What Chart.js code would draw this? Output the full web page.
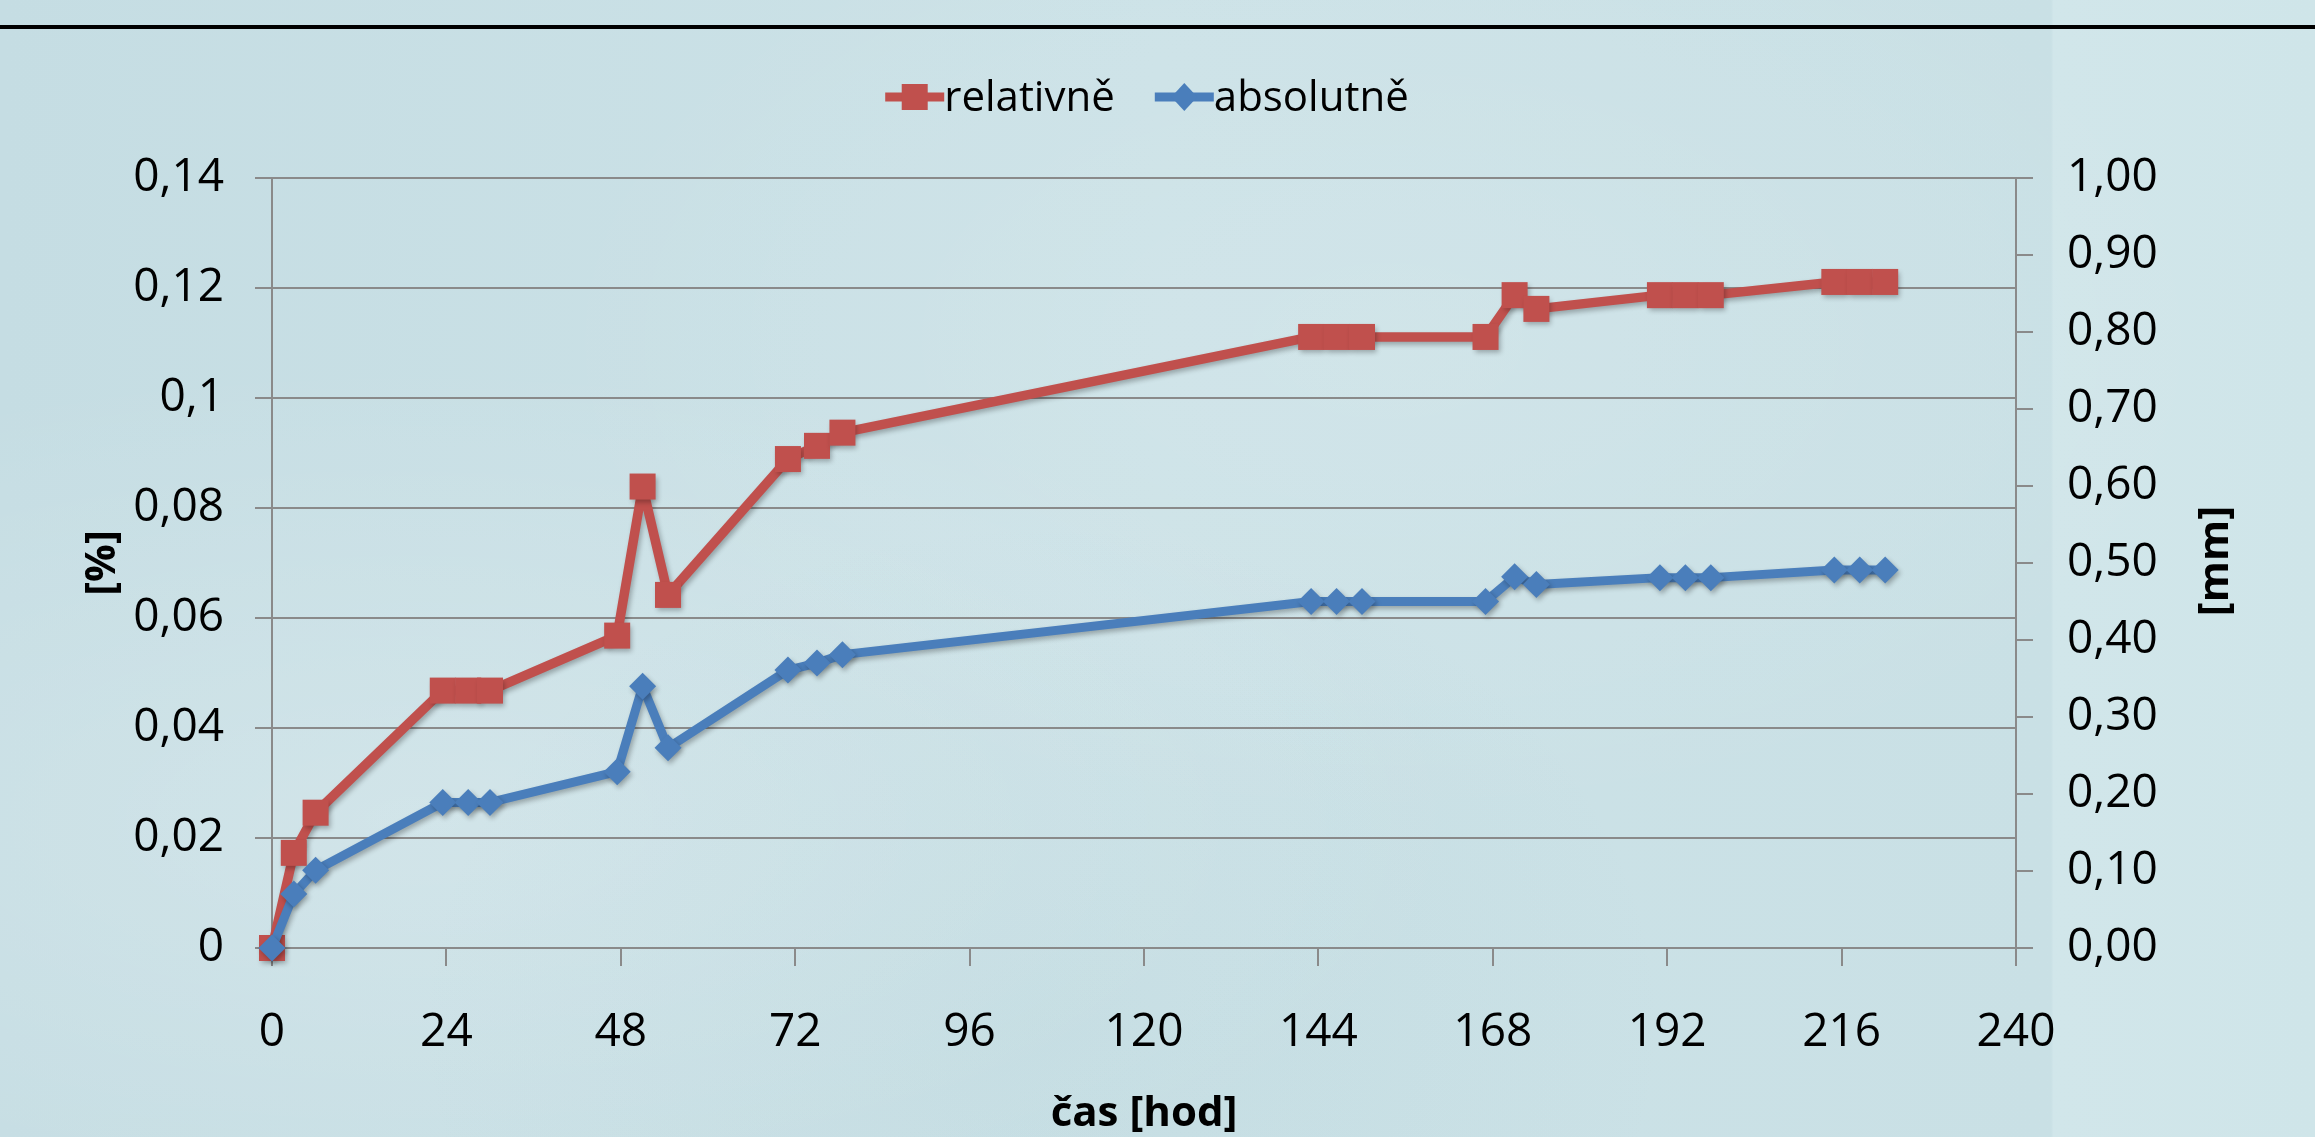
<!DOCTYPE html>
<html lang="cs">
<head>
<meta charset="utf-8">
<title>relativně / absolutně</title>
<script src="https://cdn.jsdelivr.net/npm/chart.js@4/dist/chart.umd.min.js"></script>
<style>
    html, body { margin: 0; padding: 0; }
    body {
        width: 2315px;
        height: 1137px;
        overflow: hidden;
        background-color: #cae1e6;
        background-image:
            radial-gradient(ellipse at 18% 72%, rgba(255, 255, 255, 0.18), transparent 40%),
            radial-gradient(ellipse at 60% 30%, rgba(255, 255, 255, 0.10), transparent 45%),
            radial-gradient(ellipse at 45% 90%, rgba(110, 165, 175, 0.08), transparent 35%),
            linear-gradient(90deg, #c5dde3 0%, #cce2e7 50%, #c9e0e5 88.6%, #d1e6ea 88.7%, #cfe5e9 100%);
    }
</style>
</head>
<body>
<canvas id="chart" width="2315" height="1137"></canvas>
<script>
// --- dados ---
const hours = [0, 3, 6, 23.5, 27, 30, 47.5, 51, 54.5, 71, 75, 78.5,
               143, 146.5, 150, 167, 171, 174, 191, 194.5, 198, 215, 218.5, 222];
const relativne = [0, 0.0173, 0.0246, 0.0468, 0.0468, 0.0468, 0.0568, 0.0839, 0.0642, 0.0889, 0.0913, 0.0937,
                   0.1111, 0.1111, 0.1111, 0.1111, 0.1187, 0.1162, 0.1187, 0.1187, 0.1187, 0.1211, 0.1211, 0.1211];
const absolutne = [0, 0.070, 0.101, 0.189, 0.189, 0.189, 0.229, 0.340, 0.260, 0.361, 0.370, 0.381,
                   0.450, 0.450, 0.450, 0.450, 0.482, 0.472, 0.481, 0.481, 0.481, 0.491, 0.491, 0.491];
const xTicks = [0, 24, 48, 72, 96, 120, 144, 168, 192, 216, 240];
const leftTicks = [0, 0.02, 0.04, 0.06, 0.08, 0.1, 0.12, 0.14];
const rightTicks = [0, 0.1, 0.2, 0.3, 0.4, 0.5, 0.6, 0.7, 0.8, 0.9, 1.0];

const FONT = '"Open Sans", "Liberation Sans", sans-serif';
const gridColor = '#8a8a8a';
const red = '#c0504d';
const blue = '#4a7ebb';

const toPoints = (ys) => hours.map((h, i) => ({ x: h, y: ys[i] }));

// moldura, legenda, título do eixo direito e sombras
const decor = {
    id: 'decor',
    beforeDraw(chart) {
        const ctx = chart.ctx;
        ctx.save();
        ctx.fillStyle = '#000';
        ctx.fillRect(0, 25, chart.width, 4);
        ctx.restore();
    },
    beforeDatasetsDraw(chart) {
        const ctx = chart.ctx;
        ctx.save();
        ctx.shadowColor = 'rgba(0, 0, 0, 0.28)';
        ctx.shadowBlur = 5;
        ctx.shadowOffsetX = 2;
        ctx.shadowOffsetY = 3;
    },
    afterDatasetsDraw(chart) {
        chart.ctx.restore();
    },
    afterDraw(chart) {
        const ctx = chart.ctx;
        const ds = chart.data.datasets;

        // legenda
        ctx.save();
        ctx.font = '42px ' + FONT;
        ctx.textBaseline = 'middle';
        const markerW = 59;
        const gap = 40;
        const widths = ds.map(d => markerW + ctx.measureText(d.label).width);
        const total = widths.reduce((a, b) => a + b, 0) + gap * (ds.length - 1);
        let x = 1147 - total / 2;
        const y = 97;
        ds.forEach((d, i) => {
            ctx.strokeStyle = d.borderColor;
            ctx.lineWidth = 9;
            ctx.beginPath();
            ctx.moveTo(x, y);
            ctx.lineTo(x + markerW, y);
            ctx.stroke();
            ctx.fillStyle = d.borderColor;
            const cx = x + markerW / 2;
            ctx.beginPath();
            if (d.pointStyle === 'rect') {
                ctx.rect(cx - 13, y - 13, 26, 26);
            } else {
                ctx.moveTo(cx - 13, y);
                ctx.lineTo(cx, y - 14);
                ctx.lineTo(cx + 13, y);
                ctx.lineTo(cx, y + 14);
                ctx.closePath();
            }
            ctx.fill();
            ctx.fillStyle = '#000';
            ctx.fillText(d.label, x + markerW, y + 2);
            x += widths[i] + gap;
        });
        ctx.restore();

        // título do eixo direito (lido de baixo para cima)
        ctx.save();
        ctx.translate(2216, 561);
        ctx.rotate(-Math.PI / 2);
        ctx.font = 'bold 42px ' + FONT;
        ctx.fillStyle = '#000';
        ctx.textAlign = 'center';
        ctx.textBaseline = 'middle';
        ctx.fillText('[mm]', 0, 0);
        ctx.restore();
    }
};

function drawChart() {
    const ctx = document.getElementById('chart');
    new Chart(ctx, {
        type: 'line',
        data: {
            datasets: [{
                label: 'relativně',
                data: toPoints(relativne),
                yAxisID: 'y',
                borderColor: red,
                backgroundColor: red,
                borderWidth: 9.5,
                borderJoinStyle: 'round',
                borderCapStyle: 'round',
                pointStyle: 'rect',
                pointRadius: 18.4,
                pointBorderWidth: 0,
                pointBackgroundColor: red,
                tension: 0,
                clip: false,
                order: 2
            }, {
                label: 'absolutně',
                data: toPoints(absolutne),
                yAxisID: 'y1',
                borderColor: blue,
                backgroundColor: blue,
                borderWidth: 9,
                borderJoinStyle: 'round',
                borderCapStyle: 'round',
                pointStyle: 'rectRot',
                pointRadius: 13.5,
                pointBorderWidth: 0,
                pointBackgroundColor: blue,
                tension: 0,
                clip: false,
                order: 1
            }]
        },
        options: {
            responsive: false,
            animation: false,
            events: [],
            layout: { padding: { top: 178, left: 0, right: 0, bottom: 0 } },
            scales: {
                x: {
                    type: 'linear',
                    min: 0,
                    max: 240,
                    afterBuildTicks: (s) => { s.ticks = xTicks.map(v => ({ value: v })); },
                    afterFit: (s) => { s.height = 189; },
                    grid: { drawOnChartArea: false, drawTicks: true, tickLength: 18, color: gridColor, lineWidth: 2 },
                    border: { display: true, color: gridColor, width: 2 },
                    ticks: {
                        font: { family: FONT, size: 46 },
                        color: '#000',
                        padding: 39,
                        maxRotation: 0,
                        autoSkip: false,
                        callback: (v) => String(v)
                    },
                    title: {
                        display: true,
                        text: 'čas [hod]',
                        color: '#000',
                        font: { family: FONT, size: 42, weight: 'bold', lineHeight: 1.1 },
                        padding: { top: 0, bottom: 0 }
                    }
                },
                y: {
                    position: 'left',
                    min: 0,
                    max: 0.14,
                    afterBuildTicks: (s) => { s.ticks = leftTicks.map(v => ({ value: v })); },
                    afterFit: (s) => { s.width = 272; },
                    grid: { color: gridColor, lineWidth: 2, tickLength: 17 },
                    border: { display: true, color: gridColor, width: 2 },
                    ticks: {
                        font: { family: FONT, size: 46 },
                        color: '#000',
                        padding: 31,
                        callback: (v) => String(Math.round(v * 100) / 100).replace('.', ',')
                    },
                    title: {
                        display: true,
                        text: '[%]',
                        color: '#000',
                        font: { family: FONT, size: 42, weight: 'bold', lineHeight: 1.1 },
                        padding: { top: 80, bottom: 0 }
                    }
                },
                y1: {
                    position: 'right',
                    min: 0,
                    max: 1,
                    afterBuildTicks: (s) => { s.ticks = rightTicks.map(v => ({ value: v })); },
                    afterFit: (s) => { s.width = 299; },
                    grid: { drawOnChartArea: false, color: gridColor, lineWidth: 2, tickLength: 17 },
                    border: { display: true, color: gridColor, width: 2 },
                    ticks: {
                        font: { family: FONT, size: 46 },
                        color: '#000',
                        padding: 34,
                        callback: (v) => v.toFixed(2).replace('.', ',')
                    }
                }
            },
            plugins: {
                legend: { display: false },
                tooltip: { enabled: false }
            }
        },
        plugins: [decor]
    });
}

document.addEventListener('DOMContentLoaded', () => {
    document.fonts.load('46px "Open Sans"').then(drawChart, drawChart);
});
</script>
</body>
</html>
